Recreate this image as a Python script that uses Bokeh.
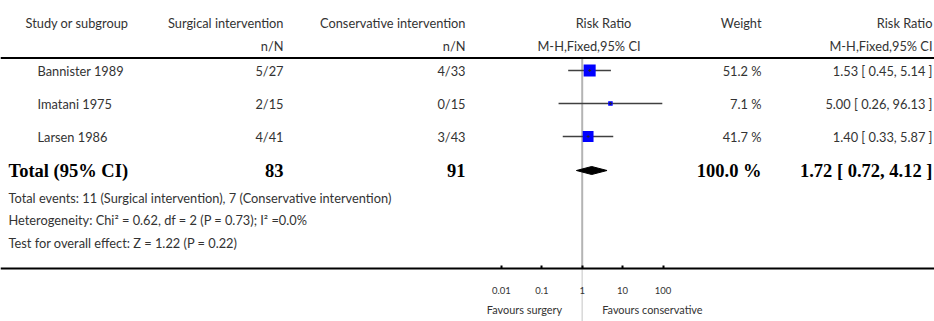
import numpy as np
from bokeh.plotting import figure
from bokeh.models import Range1d, LogScale, LogAxis, FixedTicker, Span
from bokeh.core.properties import value
from bokeh.embed import file_html
from bokeh.resources import INLINE

# ---------------- data ----------------
studies = ["Bannister 1989", "Imatani 1975", "Larsen 1986"]
surg_events = [5, 2, 4]
surg_total = [27, 15, 41]
cons_events = [4, 0, 3]
cons_total = [33, 15, 43]
rr = [1.53, 5.00, 1.40]
rr_lo = [0.45, 0.26, 0.33]
rr_hi = [5.14, 96.13, 5.87]
weights = [51.2, 7.1, 41.7]

total_label = "Total (95% CI)"
total_surg_n = 83
total_cons_n = 91
total_weight = 100.0
total_rr = 1.72
total_lo = 0.72
total_hi = 4.12

footer_lines = [
    "Total events: 11 (Surgical intervention), 7 (Conservative intervention)",
    "Heterogeneity: Chi\u00b2 = 0.62, df = 2 (P = 0.73); I\u00b2 =0.0%",
    "Test for overall effect: Z = 1.22 (P = 0.22)",
]

tick_values = [0.01, 0.1, 1, 10, 100]
tick_labels = ["0.01", "0.1", "1", "10", "100"]
favours_left = "Favours surgery"
favours_right = "Favours conservative"

# ---------------- layout ----------------
W, H = 934, 321
X0, X1 = 0, 934          # table coordinates (pixel-like)
Y_TOP, Y_BOT = 0, 321    # flipped y
RR1_X = 581.7            # x where risk ratio = 1
DECADE = 40.4            # pixels per decade
SANS = "Lato"
SERIF = "Liberation Serif"
TXT = "#333333"
SZ = "12.8px"
BSZ = "18.5px"

rr_start = 10 ** ((X0 - RR1_X) / DECADE)
rr_end = 10 ** ((X1 - RR1_X) / DECADE)

p = figure(width=W, height=H, output_backend="svg", toolbar_location=None,
           x_range=Range1d(X0, X1), y_range=Range1d(Y_BOT, Y_TOP),
           extra_x_ranges={"rr": Range1d(rr_start, rr_end)},
           extra_x_scales={"rr": LogScale()},
           min_border=0, outline_line_color=None)
p.axis.visible = False
p.grid.visible = False
p.background_fill_color = "white"

row0, step = 70, 33
rows_y = [row0 + i * step for i in range(len(studies))]
total_y = row0 + len(studies) * step + 1
foot_y0, foot_step = 197, 22.5
axis_y = 268

def txt(x, y, t, align="left", font=SANS, size=SZ, style="normal", color=TXT, rng="default",
        baseline="middle", **kw):
    p.text(x=x, y=y, text=t, text_align=align, text_baseline=baseline,
           text_font=value(font), text_font_size=size, text_font_style=style,
           text_color=color, x_range_name=rng, **kw)

# header
hy1, hy2 = 22, 45
txt([25], [hy1], ["Study or subgroup"])
txt([283], [hy1], ["Surgical intervention"], align="right")
txt([283], [hy2], ["n/N"], align="right")
txt([465], [hy1], ["Conservative intervention"], align="right")
txt([465], [hy2], ["n/N"], align="right")
txt([603], [hy1], ["Risk Ratio"], align="center")
txt([588.5], [hy2], ["M-H,Fixed,95% CI"], align="center")
txt([761], [hy1], ["Weight"], align="right")
txt([932], [hy1], ["Risk Ratio"], align="right")
txt([932], [hy2], ["M-H,Fixed,95% CI"], align="right")

p.add_layout(Span(location=57.5, dimension="width", line_color="black", line_width=2))

# reference line at RR = 1
p.segment(x0=[1], y0=[57.5], x1=[1], y1=[axis_y], x_range_name="rr",
          line_color="#b4b4b4", line_width=2)
p.segment(x0=[1], y0=[axis_y], x1=[1], y1=[Y_BOT], x_range_name="rr",
          line_color="#d8d8d8", line_width=1.5)

# study rows
txt([37] * len(studies), rows_y, studies)
txt([283] * len(studies), rows_y, [f"{a}/{b}" for a, b in zip(surg_events, surg_total)], align="right")
txt([465] * len(studies), rows_y, [f"{a}/{b}" for a, b in zip(cons_events, cons_total)], align="right")
txt([761] * len(studies), rows_y, [f"{w:.1f} %" for w in weights], align="right")
txt([932] * len(studies), rows_y,
    [f"{r:.2f} [ {l:.2f}, {h:.2f} ]" for r, l, h in zip(rr, rr_lo, rr_hi)], align="right")

p.segment(x0=rr_lo, y0=rows_y, x1=rr_hi, y1=rows_y, x_range_name="rr",
          line_color="#404040", line_width=1.5)
p.scatter(x=rr, y=rows_y, size=[1.68 * np.sqrt(w) for w in weights], marker="square",
          x_range_name="rr", fill_color="#0000ff", line_color=None)
p.scatter(x=rr, y=rows_y, size=3, marker="cross", x_range_name="rr",
          line_color="#202040", line_width=1)

# total row
txt([8], [total_y], [total_label], font=SERIF, size=BSZ, style="bold", color="black")
txt([283], [total_y], [str(total_surg_n)], align="right", font=SERIF, size=BSZ, style="bold", color="black")
txt([465], [total_y], [str(total_cons_n)], align="right", font=SERIF, size=BSZ, style="bold", color="black")
txt([761], [total_y], [f"{total_weight:.1f} %"], align="right", font=SERIF, size=BSZ, style="bold", color="black")
txt([932], [total_y], [f"{total_rr:.2f} [ {total_lo:.2f}, {total_hi:.2f} ]"], align="right",
    font=SERIF, size=BSZ, style="bold", color="black")

dh = 4
p.patch(x=[total_lo, total_rr, total_hi, total_rr],
        y=[total_y, total_y - dh, total_y, total_y + dh],
        x_range_name="rr", fill_color="black", line_color="black", line_width=1)

# footer
txt([8] * len(footer_lines), [foot_y0 + i * foot_step for i in range(len(footer_lines))],
    footer_lines)

# log axis
ax = LogAxis(x_range_name="rr", fixed_location=axis_y,
             ticker=FixedTicker(ticks=tick_values, minor_ticks=[]),
             major_label_overrides={v: l for v, l in zip(tick_values, tick_labels)},
             axis_line_width=2, axis_line_color="black",
             major_tick_in=3, major_tick_out=0, major_tick_line_width=2,
             minor_tick_in=0, minor_tick_out=0,
             major_label_standoff=18,
             major_label_text_font=SANS, major_label_text_font_size="9.5px",
             major_label_text_color=TXT)
p.add_layout(ax, "below")

# favours labels
txt([1], [308.5], [favours_left], align="right", size="10.9px", rng="rr", x_offset=-20)
txt([1], [308.5], [favours_right], align="left", size="10.9px", rng="rr", x_offset=20)

open("out.html", "w").write(file_html(p, INLINE))
